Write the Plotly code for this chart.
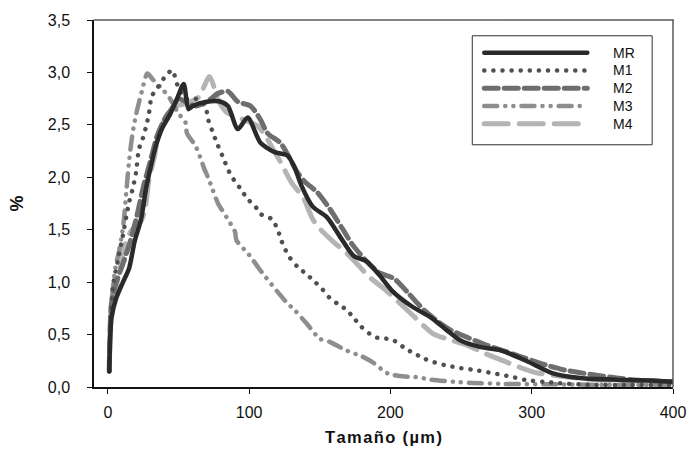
import plotly.graph_objects as go

# Particle size distribution (%) vs size (µm) for five samples
mr_x = [1, 1.5, 2.6, 6, 10.7, 15, 19, 23.5, 27, 30, 34, 38.5, 44, 49, 53.7, 57, 60, 70, 80, 85, 92, 99,
        108, 118, 127, 132, 137, 145, 155, 165, 174, 183, 192, 201, 215, 229, 240, 250, 264, 278, 296,
        315, 334, 366, 389, 400]
mr_y = [0.15, 0.4, 0.66, 0.85, 1.0, 1.13, 1.39, 1.6, 1.89, 2.08, 2.3, 2.47, 2.6, 2.75, 2.89, 2.65, 2.68,
        2.72, 2.72, 2.68, 2.46, 2.57, 2.33, 2.24, 2.21, 2.1, 1.92, 1.72, 1.62, 1.42, 1.25, 1.2, 1.07, 0.92,
        0.77, 0.66, 0.54, 0.44, 0.38, 0.35, 0.25, 0.13, 0.085, 0.066, 0.06, 0.05]

m1_x = [1, 2, 4, 7, 10.7, 15, 17.6, 20, 22, 24.5, 27, 29, 31, 35, 40, 45.5, 50, 55, 62, 69, 71, 74.6, 77,
        80, 83, 87, 90.6, 94, 99, 104, 108, 115, 118.5, 121, 123, 125.6, 129, 134, 141, 146, 152, 157,
        163, 168.6, 174, 179, 185, 190.7, 197.7, 204.6, 210, 217, 224, 230, 238, 250, 261, 273, 285, 296,
        308, 320, 343, 370, 400]
m1_y = [0.15, 0.7, 1.0, 1.2, 1.45, 1.76, 1.89, 2.05, 2.27, 2.36, 2.48, 2.6, 2.77, 2.85, 2.95, 3.02, 2.85,
        2.75, 2.75, 2.68, 2.55, 2.42, 2.33, 2.24, 2.14, 2.02, 1.95, 1.89, 1.79, 1.73, 1.65, 1.61, 1.55,
        1.47, 1.39, 1.31, 1.23, 1.15, 1.07, 1.01, 0.93, 0.85, 0.79, 0.74, 0.66, 0.58, 0.51, 0.47, 0.46,
        0.43, 0.37, 0.32, 0.27, 0.24, 0.21, 0.18, 0.16, 0.13, 0.10, 0.066, 0.05, 0.035, 0.02, 0.02, 0.02]

m2_x = [1, 2.6, 6, 10, 15, 20, 25, 30, 35, 40, 45, 50, 55, 62, 70, 78, 85, 92, 101, 108, 113, 122, 128,
        134, 140, 148, 157, 166, 173, 183, 192, 203, 213, 224, 236, 243, 255, 266, 279, 292, 310, 324,
        347, 373, 396, 400]
m2_y = [0.15, 0.8, 1.0, 1.15, 1.35, 1.6, 1.9, 2.15, 2.4, 2.55, 2.65, 2.75, 2.72, 2.68, 2.72, 2.8, 2.82,
        2.72, 2.68, 2.55, 2.42, 2.33, 2.2, 2.05, 1.95, 1.86, 1.7, 1.51, 1.36, 1.2, 1.09, 1.03, 0.89, 0.73,
        0.6, 0.54, 0.47, 0.41, 0.35, 0.29, 0.21, 0.16, 0.11, 0.066, 0.05, 0.05]

m3_x = [1, 2, 4, 5.5, 8, 11, 13, 15, 17.5, 20, 23.5, 28, 32, 38, 44, 50, 55, 56, 62, 66, 68, 71.5, 78, 84,
        90, 91, 100, 107, 111, 120, 127, 132.5, 141, 150, 157, 168.6, 180, 187, 198, 210, 217, 229, 245,
        258, 280, 320, 360, 400]
m3_y = [0.15, 0.7, 1.0, 1.15, 1.3, 1.55, 1.85, 2.15, 2.42, 2.6, 2.79, 2.99, 2.93, 2.85, 2.75, 2.61, 2.52,
        2.42, 2.3, 2.17, 2.09, 1.98, 1.75, 1.62, 1.48, 1.4, 1.26, 1.13, 1.06, 0.91, 0.8, 0.73, 0.6, 0.46,
        0.43, 0.35, 0.29, 0.24, 0.13, 0.1, 0.097, 0.07, 0.05, 0.038, 0.03, 0.025, 0.02, 0.02]

m4_x = [1, 2.6, 5, 8, 12, 17, 22, 26, 29, 33, 36, 42, 48, 54, 64, 72, 78, 84, 96, 106, 113, 122, 130,
        138.5, 145, 150, 160, 168, 176, 185, 197, 209, 220, 230, 242, 254, 267, 280, 291, 302, 322, 345,
        374, 393, 400]
m4_y = [0.15, 0.73, 0.88, 1.1, 1.35, 1.5, 1.55, 1.67, 1.97, 2.2, 2.42, 2.6, 2.68, 2.7, 2.76, 2.96, 2.74,
        2.62, 2.55, 2.49, 2.36, 2.15, 1.95, 1.8, 1.6, 1.51, 1.38, 1.29, 1.18, 1.05, 0.92, 0.77, 0.63, 0.51,
        0.45, 0.4, 0.32, 0.25, 0.19, 0.14, 0.1, 0.07, 0.057, 0.05, 0.05]

names = ["MR", "M1", "M2", "M3", "M4"]
colors = ["#2a2a2a", "#505050", "#6e6e6e", "#8e8e8e", "#b4b4b4"]
dashes = ["solid", "0.1px,9px", "14px,6px", "13px,8px,0.1px,8px,0.1px,8px", "24px,11px"]
widths = [4.5, 4.5, 5, 4.5, 5]
series = [(mr_x, mr_y), (m1_x, m1_y), (m2_x, m2_y), (m3_x, m3_y), (m4_x, m4_y)]

FONT = "Liberation Sans, Arial, sans-serif"
x_title = "\u200a".join("Tamaño (µm)")

fig = go.Figure()
# draw lightest first so the darker curves sit on top
for i in reversed(range(5)):
    x, y = series[i]
    fig.add_trace(go.Scatter(
        x=x, y=y, mode="lines", name=names[i], showlegend=False,
        line=dict(color=colors[i], width=widths[i], dash=dashes[i], shape="spline", smoothing=0.7),
    ))

# plot area frame: black left/bottom axes, grey top/right edges
fig.add_shape(type="line", xref="paper", yref="paper", x0=0, x1=1, y0=1, y1=1,
              line=dict(color="#5a5a5a", width=1.5))
fig.add_shape(type="line", xref="paper", yref="paper", x0=1, x1=1, y0=0, y1=1,
              line=dict(color="#5a5a5a", width=1.5))

# legend box drawn in paper coordinates
L, R, T, B = 0.654, 0.964, 0.957, 0.66
fig.add_shape(type="rect", xref="paper", yref="paper", x0=L, x1=R, y0=B, y1=T,
              line=dict(color="#303030", width=1), fillcolor="white")
row_step = 0.0485
for i in range(5):
    yy = 0.911 - i * row_step
    fig.add_shape(type="line", xref="paper", yref="paper", x0=0.674, x1=0.852, y0=yy, y1=yy,
                  line=dict(color=colors[i], width=widths[i], dash=dashes[i]))
    fig.add_annotation(xref="paper", yref="paper", x=0.893, y=yy, text=names[i], showarrow=False,
                       xanchor="left", yanchor="middle",
                       font=dict(family=FONT, size=14, color="#111"))

fig.update_layout(
    width=698, height=457,
    margin=dict(l=94, r=16, t=16, b=70),
    plot_bgcolor="white", paper_bgcolor="white",
    separators=",.",
    font=dict(family=FONT, size=16, color="#111"),
    xaxis=dict(range=[-9.8, 400], tickvals=[0, 100, 200, 300, 400], showgrid=False, zeroline=False,
               showline=True, linecolor="#111", linewidth=1.5, ticks="outside", ticklen=5,
               tickcolor="#111", tickfont=dict(size=16), ticklabelstandoff=5,
               title=dict(text=x_title, font=dict(size=16.5, family=FONT, weight="bold"), standoff=11)),
    yaxis=dict(range=[0, 3.5], tickvals=[0, 0.5, 1, 1.5, 2, 2.5, 3, 3.5], tickformat=".1f",
               showgrid=False, zeroline=False, showline=True, linecolor="#111", linewidth=1.5,
               ticks="outside", ticklen=5, tickcolor="#111", tickfont=dict(size=16),
               ticklabelstandoff=14,
               title=dict(text="%", font=dict(size=18, family=FONT, weight="bold"), standoff=19)),
)

round_caps = """
document.querySelectorAll('.scatterlayer path.js-line, .shapelayer path').forEach(function(p){
  p.style.strokeLinecap = 'round';
});
"""
fig.write_html("out.html", post_script=round_caps)
